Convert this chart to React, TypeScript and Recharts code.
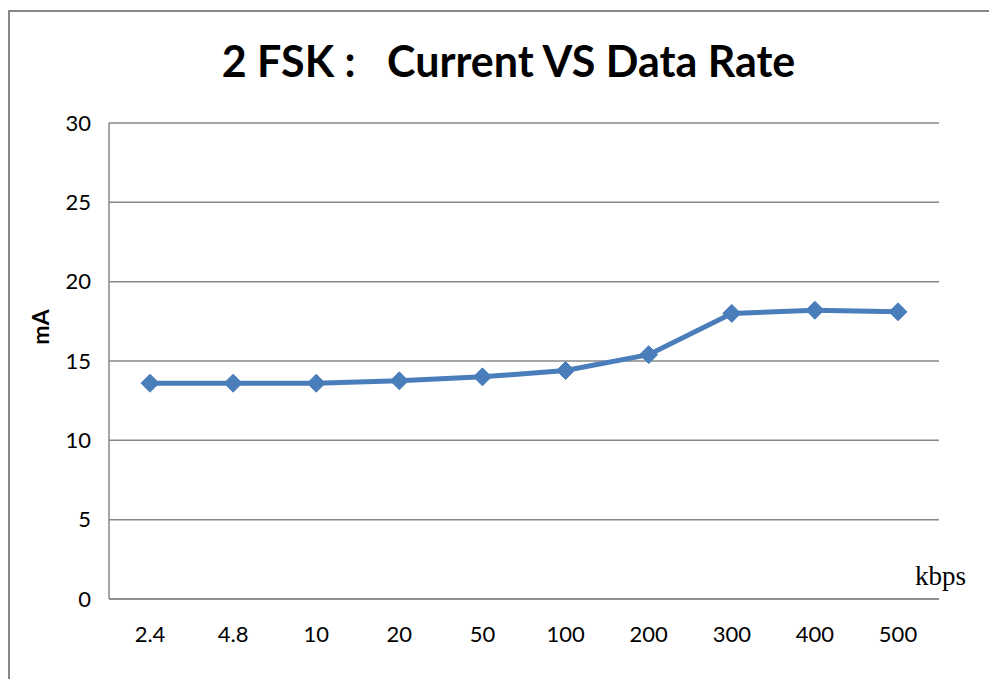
import { LineChart, Line, XAxis, YAxis, CartesianGrid } from 'recharts';

const rates: string[] = ['2.4', '4.8', '10', '20', '50', '100', '200', '300', '400', '500'];
const currentMa: number[] = [13.6, 13.6, 13.6, 13.75, 14.0, 14.4, 15.4, 18.0, 18.2, 18.1];
const yTicks: number[] = [0, 5, 10, 15, 20, 25, 30];

const data = rates.map((r, i) => ({ rate: r, current: currentMa[i] }));

const FONT = 'Lato, "Open Sans", sans-serif';
const GRID = '#888888';
const BLUE = '#4a7ebb';

function Diamond(props: any) {
    const { cx, cy } = props;
    if (cx == null || cy == null) return null;
    const r = 9;
    return (
        <polygon
            points={`${cx},${cy - r} ${cx + r},${cy} ${cx},${cy + r} ${cx - r},${cy}`}
            fill={BLUE}
            stroke={BLUE}
        />
    );
}

export default function App() {
    return (
        <div style={{ paddingTop: 2 }}>
            <div
                style={{
                    position: 'relative',
                    width: 987,
                    height: 667,
                    borderTop: `2px solid ${GRID}`,
                    borderLeft: `2px solid ${GRID}`,
                    fontFamily: FONT,
                    overflow: 'hidden',
                }}
            >
                <div
                    style={{
                        position: 'absolute',
                        left: 0,
                        width: 997,
                        top: 23,
                        textAlign: 'center',
                        fontSize: 43,
                        fontWeight: 700,
                        whiteSpace: 'pre',
                        color: '#000',
                    }}
                >
                    {'2 FSK :   Current VS Data Rate'}
                </div>
                <div
                    style={{
                        position: 'absolute',
                        left: 10,
                        top: 301,
                        width: 40,
                        height: 28,
                        transform: 'rotate(-90deg)',
                        textAlign: 'center',
                        fontSize: 23,
                        fontWeight: 700,
                        color: '#000',
                    }}
                >
                    mA
                </div>
                <div
                    style={{
                        position: 'absolute',
                        left: 905,
                        top: 549,
                        fontSize: 27,
                        fontFamily: '"Liberation Serif", serif',
                        color: '#000',
                    }}
                >
                    kbps
                </div>
                <LineChart
                    width={985}
                    height={665}
                    data={data}
                    margin={{ top: 111, right: 56, left: 39, bottom: 28 }}
                >
                    <CartesianGrid vertical={false} stroke={GRID} strokeWidth={1.5} />
                    <XAxis
                        dataKey="rate"
                        height={50}
                        padding={{ left: 41, right: 41 }}
                        axisLine={{ stroke: GRID, strokeWidth: 1.5 }}
                        tickLine={false}
                        tickMargin={21}
                        tick={{ fill: '#000', fontSize: 22, fontFamily: FONT }}
                        interval={0}
                    />
                    <YAxis
                        width={60}
                        domain={[0, 30]}
                        ticks={yTicks}
                        axisLine={{ stroke: GRID, strokeWidth: 1.5 }}
                        tickLine={false}
                        tickMargin={12}
                        tick={{ fill: '#000', fontSize: 22, fontFamily: FONT }}
                    />
                    <Line
                        dataKey="current"
                        stroke={BLUE}
                        strokeWidth={5}
                        dot={<Diamond />}
                        activeDot={false}
                        isAnimationActive={false}
                    />
                </LineChart>
            </div>
        </div>
    );
}
